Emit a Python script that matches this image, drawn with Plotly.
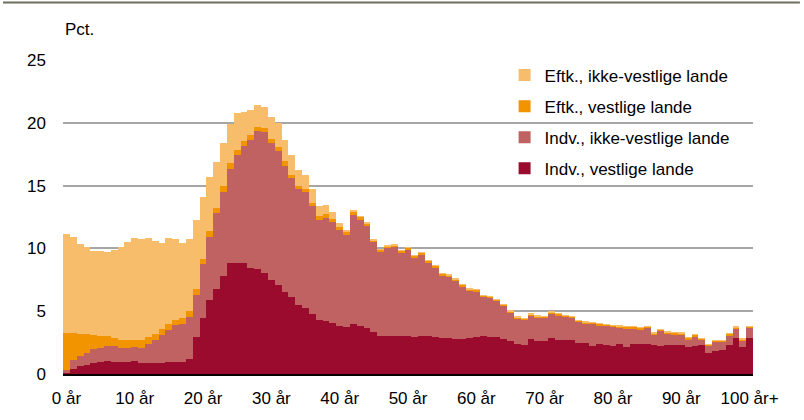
import plotly.graph_objects as go

ages = list(range(0, 101))

# Indv., vestlige lande
indv_vest = [0.15, 0.41, 0.62, 0.73, 0.89, 0.94, 1.02, 0.94, 0.94, 0.94,
             1.00, 0.89, 0.86, 0.86, 0.86, 0.94, 0.94, 0.94, 1.21, 2.94,
             4.48, 5.86, 6.74, 7.80, 8.84, 8.84, 8.84, 8.47, 8.36, 8.04,
             7.51, 7.08, 6.53, 6.13, 5.46, 5.28, 4.74, 4.27, 4.19, 4.05,
             3.79, 3.73, 3.95, 3.84, 3.68, 3.34, 3.02, 3.02, 3.02, 3.04,
             2.99, 2.94, 2.99, 3.02, 2.91, 2.86, 2.86, 2.78, 2.78, 2.89,
             2.96, 3.02, 2.94, 2.94, 2.80, 2.59, 2.38, 2.27, 2.80, 2.65,
             2.65, 2.86, 2.72, 2.67, 2.67, 2.46, 2.46, 2.22, 2.38, 2.33,
             2.22, 2.38, 2.14, 2.35, 2.38, 2.38, 2.30, 2.25, 2.27, 2.27,
             2.27, 2.14, 2.22, 2.27, 1.66, 1.87, 1.95, 2.33, 2.88, 2.14,
             2.88]

# Indv., ikke-vestlige lande
indv_ikke = [0.13, 0.67, 0.80, 0.96, 1.11, 1.15, 1.20, 1.28, 1.15, 1.15,
             1.14, 1.17, 1.55, 1.86, 2.26, 2.53, 2.98, 3.06, 3.32, 3.32,
             4.25, 5.05, 6.09, 6.70, 7.52, 8.56, 9.30, 10.15, 11.00, 11.24,
             10.92, 10.66, 10.07, 9.46, 9.23, 9.19, 8.64, 8.02, 8.24, 8.03,
             7.71, 7.37, 8.74, 8.45, 8.12, 7.14, 6.69, 6.98, 7.06, 6.59,
             6.90, 6.29, 6.48, 5.81, 5.52, 4.96, 4.85, 4.59, 4.14, 3.68,
             3.56, 3.12, 3.12, 2.88, 2.62, 2.30, 2.03, 2.04, 1.85, 1.84,
             1.82, 1.95, 1.96, 1.88, 1.80, 1.69, 1.55, 1.77, 1.50, 1.50,
             1.53, 1.31, 1.50, 1.29, 1.18, 1.29, 0.84, 1.18, 0.95, 0.89,
             0.87, 0.62, 0.78, 0.44, 0.57, 0.68, 0.60, 0.75, 0.73, 0.52,
             0.79]

# Eftk., vestlige lande
eftk_vest = [2.98, 2.20, 1.78, 1.46, 1.07, 0.90, 0.77, 0.66, 0.63, 0.58,
             0.58, 0.61, 0.53, 0.43, 0.48, 0.48, 0.40, 0.45, 0.48, 0.48,
             0.45, 0.45, 0.42, 0.48, 0.40, 0.42, 0.40, 0.37, 0.32, 0.27,
             0.32, 0.30, 0.32, 0.29, 0.29, 0.27, 0.24, 0.27, 0.29, 0.24,
             0.21, 0.21, 0.21, 0.21, 0.20, 0.17, 0.17, 0.17, 0.17, 0.17,
             0.17, 0.17, 0.17, 0.17, 0.17, 0.17, 0.17, 0.17, 0.17, 0.17,
             0.17, 0.12, 0.12, 0.12, 0.12, 0.12, 0.12, 0.12, 0.12, 0.12,
             0.12, 0.12, 0.12, 0.12, 0.12, 0.12, 0.12, 0.12, 0.12, 0.12,
             0.12, 0.12, 0.12, 0.12, 0.12, 0.12, 0.12, 0.12, 0.12, 0.12,
             0.12, 0.12, 0.12, 0.12, 0.12, 0.12, 0.12, 0.12, 0.12, 0.12,
             0.12]

# Eftk., ikke-vestlige lande
eftk_ikke = [7.92, 7.63, 7.18, 6.94, 6.75, 6.80, 6.73, 6.96, 7.40, 7.84,
             8.14, 8.08, 7.86, 7.44, 6.86, 6.88, 6.43, 5.98, 5.71, 5.50,
             4.92, 4.36, 3.64, 3.43, 3.14, 2.93, 2.34, 2.00, 1.76, 1.68,
             1.68, 1.91, 1.70, 1.54, 1.30, 1.09, 1.07, 0.80, 0.72, 0.58,
             0.32, 0.13, 0.08, 0.06, 0.05, 0.05, 0.05, 0.05, 0.05, 0.05,
             0.05, 0.05, 0.05, 0.05, 0.05, 0.05, 0.05, 0.05, 0.05, 0.05,
             0.05, 0.02, 0.02, 0.02, 0.02, 0.02, 0.02, 0.02, 0.02, 0.02,
             0.02, 0.02, 0.02, 0.02, 0.02, 0.02, 0.02, 0.02, 0.02, 0.02,
             0.02, 0.02, 0.02, 0.02, 0.02, 0.02, 0.02, 0.02, 0.02, 0.02,
             0.02, 0.02, 0.02, 0.02, 0.02, 0.02, 0.02, 0.02, 0.02, 0.02,
             0.02]

tick_vals = [0, 10, 20, 30, 40, 50, 60, 70, 80, 90, 100]
tick_text = ["0 år", "10 år", "20 år", "30 år", "40 år", "50 år", "60 år",
             "70 år", "80 år", "90 år", "100 år+"]

# stacking order bottom -> top; legend rank gives top -> bottom listing
series = [
    ("Indv., vestlige lande", indv_vest, "#9B0B2E", 4),
    ("Indv., ikke-vestlige lande", indv_ikke, "#C06262", 3),
    ("Eftk., vestlige lande", eftk_vest, "#F29400", 2),
    ("Eftk., ikke-vestlige lande", eftk_ikke, "#F8BD6B", 1),
]

FONT = "Liberation Sans, Arial, sans-serif"

fig = go.Figure()
for i, (name, vals, col, rank) in enumerate(series):
    fig.add_trace(go.Bar(x=ages, y=vals, name=name, marker_color=col,
                         marker_line_width=0, legendgroup=f"g{i}",
                         legendrank=rank))

fig.update_layout(
    width=804, height=420,
    barmode="stack", bargap=0,
    plot_bgcolor="white", paper_bgcolor="white",
    margin=dict(l=63, r=51, t=60, b=46),
    font=dict(family=FONT, size=17, color="#000000"),
    showlegend=True,
    hovermode=False,
    legend=dict(traceorder="grouped", x=0.64, y=1.008,
                xanchor="left", yanchor="top", bgcolor="rgba(0,0,0,0)",
                font=dict(size=17, family=FONT), itemwidth=30,
                tracegroupgap=6),
    xaxis=dict(range=[-0.5, 100.5], tickmode="array", tickvals=tick_vals,
               ticktext=tick_text, showgrid=False, showline=True,
               linecolor="#000000", linewidth=2, ticks="", zeroline=False,
               ticklabelstandoff=8),
    yaxis=dict(range=[0, 25], tickvals=[0, 5, 10, 15, 20, 25],
               showgrid=True, gridcolor="#A6A6A6", gridwidth=2,
               zeroline=False, showline=False, ticks="",
               ticklabelstandoff=16),
    annotations=[dict(text="Pct.", xref="paper", yref="paper", x=0.0,
                      y=1.096, xanchor="left", yanchor="middle",
                      showarrow=False, font=dict(size=17, family=FONT))],
    shapes=[dict(type="line", xref="paper", yref="paper", x0=-0.087,
                 x1=1.068, y0=1.183, y1=1.183,
                 line=dict(color="#6E6E5E", width=2))],
)

fig.write_html("out.html", config={"displayModeBar": False},
               post_script="document.body.style.margin='0px';")
